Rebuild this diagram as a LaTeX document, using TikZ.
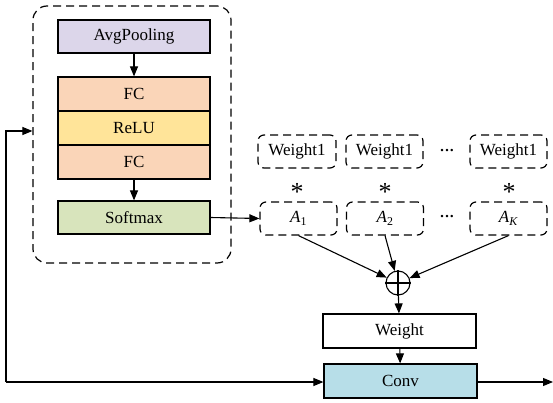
\documentclass[tikz,border=0pt]{standalone}
\usepackage{fontspec}
\setmainfont{Liberation Serif}
\usetikzlibrary{arrows.meta}
\definecolor{cpool}{HTML}{DCD6EA}
\definecolor{cfc}{HTML}{FAD5B8}
\definecolor{crelu}{HTML}{FFE499}
\definecolor{csoft}{HTML}{D8E4BC}
\definecolor{cconv}{HTML}{B7DEE8}
\tikzset{
  every node/.style={font=\fontsize{17}{20}\selectfont, inner sep=0pt},
  blk/.style={draw, line width=1.2pt, minimum width=152pt, minimum height=34pt},
  dbox/.style={draw, line width=1.2pt, dash pattern=on 8pt off 5pt, rounded corners=6pt, minimum width=77pt, minimum height=33pt},
  arr/.style={line width=1.1pt, -{Triangle[length=10pt,width=8pt]}},
  dotsnode/.style={font=\fontsize{15}{15}\bfseries\selectfont},
  starnode/.style={font=\fontsize{26}{26}\selectfont},
}
\begin{document}
\begin{tikzpicture}[x=1pt,y=-1pt]
\useasboundingbox (0,0) rectangle (553,403);
% outer dashed container
\node[draw, line width=1.2pt, dash pattern=on 8pt off 5pt, rounded corners=14pt, minimum width=198pt, minimum height=257pt] (grp) at (132,134.5) {};
\node[blk, fill=cpool, minimum height=33pt] (avg) at (134,36.5) {AvgPooling};
\node[blk, fill=cfc] (fc1) at (134,94) {FC};
\node[blk, fill=crelu] (relu) at (134,128) {ReLU};
\node[blk, fill=cfc] (fc2) at (134,162) {FC};
\node[blk, fill=csoft, minimum height=33pt] (soft) at (134,217.5) {Softmax};
% weight boxes
\node[dbox, minimum width=78pt] (w1) at (297,151.5) {Weight1};
\node[dbox] (w2) at (384.5,151.5) {Weight1};
\node[dbox] (wk) at (508.5,151.5) {Weight1};
\node[dotsnode] (d1) at (447,152) {···};
% asterisks
\node[starnode] (s1) at (297,192) {*};
\node[starnode] (s2) at (385,192) {*};
\node[starnode] (sk) at (509,192) {*};
% A boxes
\node[dbox] (a1) at (298.5,218.5) {\textit{A}\textsubscript{1}};
\node[dbox] (a2) at (385,218.5) {\textit{A}\textsubscript{2}};
\node[dbox] (ak) at (508.5,218.5) {\textit{A}\textsubscript{\textit{K}}};
\node[dotsnode] (d2) at (447,218) {···};
% sum
\node[draw, circle, line width=1.1pt, minimum size=24pt] (sum) at (398,283) {};
\draw[line width=1.1pt] (sum.north) -- (sum.south) (sum.west) -- (sum.east);
\node[blk, fill=white, minimum width=153pt] (wt) at (399.5,331) {Weight};
\node[blk, fill=cconv, minimum width=153pt] (conv) at (400.5,381) {Conv};
% connectors
\draw[arr] (avg) -- (fc1);
\draw[arr] (fc2) -- (soft);
\draw[arr] (soft.east) -- (a1.west);
\draw[arr] (a1.south) -- (sum);
\draw[arr] (a2.south) -- (sum);
\draw[arr] (ak.south) -- (sum);
\draw[arr] (sum) -- (wt);
\draw[arr] (wt) -- (conv);
\coordinate (in) at (6,382);
\coordinate (out) at (553,382);
\draw[arr] (in) -- (6,131) -- (grp.west |- 0,131);
\draw[arr] (in) -- (conv.west |- in);
\draw[arr] (conv.east |- out) -- (out);
\end{tikzpicture}
\end{document}
